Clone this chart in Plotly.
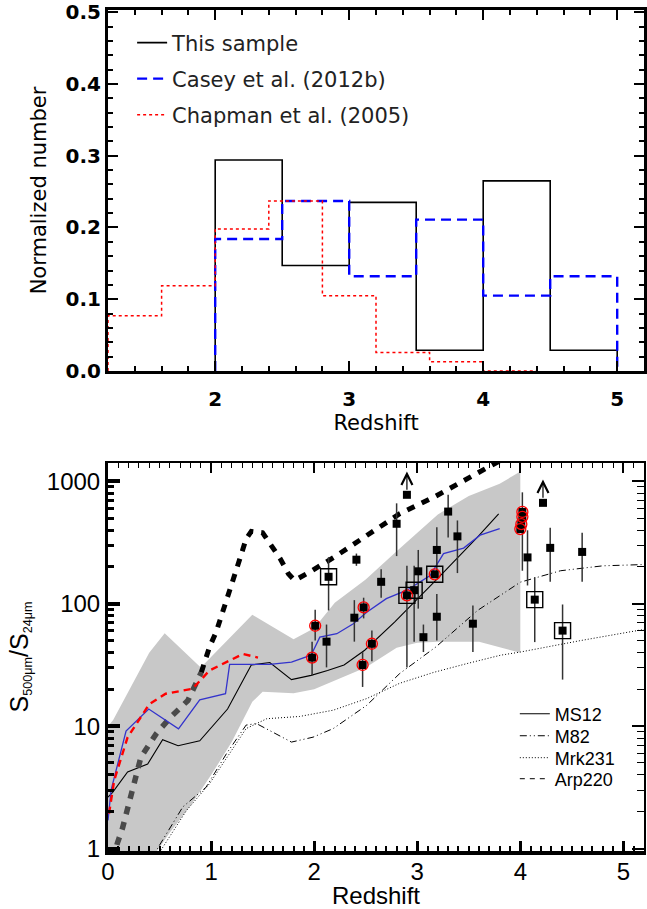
import plotly.graph_objects as go
import numpy as np

# ---------------- Top panel: redshift distributions ----------------
hist_edges = [2.0, 2.5, 3.0, 3.5, 4.0, 4.5, 5.0]
this_sample = [0.294, 0.147, 0.235, 0.029, 0.265, 0.029]
casey_2012b = [0.184, 0.237, 0.132, 0.211, 0.105, 0.132]
chapman_edges = [1.2, 1.6, 2.0, 2.4, 2.8, 3.2, 3.6, 4.0, 4.4]
chapman_2005 = [0.077, 0.119, 0.198, 0.237, 0.105, 0.026, 0.013, 0.0]

# ---------------- Bottom panel: S500/S24 vs redshift ----------------
ms12_z = [0.0, 0.045, 0.19, 0.385, 0.53, 0.68, 0.89, 1.16, 1.39, 1.57, 1.78, 1.97, 2.13, 2.29, 2.49, 2.78, 3.18, 3.58, 3.79]
ms12_r = [2.63, 2.88, 4.22, 4.90, 7.76, 6.92, 7.59, 13.8, 31.6, 33.1, 24.0, 26.0, 28.5, 31.6, 41.7, 70.8, 155, 347, 543]

blue_z = [0.0, 0.03, 0.175, 0.395, 0.684, 0.89, 1.14, 1.18, 1.57, 1.78, 1.97, 2.055, 2.22, 2.38, 2.51, 2.70, 2.90, 3.125, 3.255, 3.45, 3.61, 3.80]
blue_r = [1.7, 3.0, 9.1, 13.8, 9.5, 16.4, 18.4, 32.0, 32.0, 33.3, 38.0, 53.3, 56.9, 68.7, 85.1, 110, 129, 170, 257, 285, 363, 410]

red_z = [0.01, 0.06, 0.19, 0.40, 0.56, 0.82, 0.985, 1.15, 1.31, 1.455]
red_r = [1.93, 3.6, 8.1, 15.1, 18.4, 20.2, 28.5, 33.3, 38.9, 36.3]

arp_z = [0.05, 0.09, 0.14, 0.21, 0.32, 0.47, 0.61, 0.775, 0.905, 0.985, 1.05, 1.13, 1.21, 1.28, 1.34, 1.39, 1.50, 1.585,
         1.67, 1.75, 1.81, 1.96, 2.22, 2.51, 2.83, 3.16, 3.48, 3.73, 3.85]
arp_r = [0.8, 1.10, 1.46, 2.48, 5.60, 8.71, 11.9, 16.2, 27.5, 44.3, 58.9, 97.7, 158, 234, 339, 390, 380, 299,
         234, 176, 155, 182, 248, 361, 543, 741, 1047, 1349, 1550]
arp_split = 8  # index where the track turns from grey to black

m82_z = [0.40, 0.48, 0.726, 0.95, 1.15, 1.34, 1.44, 1.60, 1.78, 1.99, 2.185, 2.51, 2.83, 3.18, 3.585, 4.0, 4.39, 4.80, 5.2]
m82_r = [0.8, 1.0, 2.19, 3.16, 5.97, 10.2, 10.5, 8.91, 7.41, 8.13, 9.55, 14.8, 26.9, 44.3, 88.1, 150, 186, 204, 209]

mrk_z = [0.45, 0.53, 0.76, 0.985, 1.18, 1.34, 1.54, 1.86, 2.185, 2.51, 2.83, 3.16, 3.48, 3.81, 4.0, 4.59, 5.2]
mrk_r = [0.8, 1.02, 2.04, 3.39, 5.97, 9.55, 11.5, 12.0, 13.5, 16.8, 22.4, 27.5, 32.4, 38.0, 40.3, 50.1, 61.7]

band_up_z = [0.0, 0.05, 0.40, 0.55, 0.90, 1.40, 1.80, 2.0, 2.2, 2.5, 2.8, 3.2, 3.5, 3.8, 4.0]
band_up_r = [10.0, 11.2, 39.8, 57.5, 30.2, 81.3, 51.3, 63.1, 102, 158, 269, 537, 759, 955, 1202]
band_lo_z = [0.0, 0.45, 0.6, 0.8, 1.0, 1.2, 1.4, 1.5, 1.8, 2.0, 2.2, 2.5, 2.8, 3.0, 3.2, 3.6, 4.0]
band_lo_r = [0.79, 0.89, 1.35, 2.24, 3.98, 7.41, 15.8, 19.1, 18.6, 20.0, 23.4, 30.2, 43.7, 47.9, 49.0, 49.0, 39.8]

src_z = [2.01, 1.98, 2.12, 2.14, 2.39, 2.41, 2.48, 2.47, 2.56, 2.65, 2.80, 2.90, 2.90, 2.97, 3.01, 3.06,
         3.19, 3.17, 3.19, 3.30, 3.39, 3.54, 4.02, 4.02, 4.01, 4.00, 4.07, 4.14, 4.22, 4.29, 4.41, 4.60]
src_r = [66.1, 36.3, 49.0, 166, 76.9, 229, 93.3, 31.6, 47.1, 151, 450, 776, 117, 129, 184, 53.3,
         275, 174, 78.3, 566, 355, 68.7, 562, 513, 447, 407, 239, 108, 667, 286, 60.3, 265]
src_lo = [50.1, 26.0, 30.2, 88.1, 49.0, 204, 75.9, 20.9, 33.9, 112, 245, 776, 30.2, 49.0, 91.2, 40.3,
          176, 174, 50.1, 347, 178, 40.3, 186, 513, 447, 407, 141, 48.6, 667, 151, 24.0, 151]
src_hi = [89.1, 49.0, 67.6, 240, 107, 257, 112, 40.3, 60.3, 191, 661, 776, 204, 204, 275, 67.6,
          422, 174, 120, 776, 479, 96.8, 813, 513, 447, 407, 398, 165, 667, 417, 98.6, 380]
src_red = [1, 1, 0, 0, 0, 0, 1, 1, 1, 0, 0, 0, 1, 0, 0, 0,
           0, 1, 0, 0, 0, 0, 1, 1, 1, 1, 0, 0, 0, 0, 0, 0]
src_box = [0, 0, 0, 1, 0, 0, 0, 0, 0, 0, 0, 0, 1, 1, 0, 0,
           0, 1, 0, 0, 0, 0, 0, 0, 0, 0, 0, 1, 0, 0, 1, 0]
src_limit = [0, 0, 0, 0, 0, 0, 0, 0, 0, 0, 0, 1, 0, 0, 0, 0,
             0, 0, 0, 0, 0, 0, 0, 0, 0, 0, 0, 0, 1, 0, 0, 0]
limit_arrow_dex = 0.19

FONT = "Liberation Sans, Arial, sans-serif"
DJV = "DejaVu Sans, sans-serif"

top_leg_x = 0.045
top_leg_y = [0.9608, 0.9180, 0.8751]
bot_leg_x = 0.759
bot_leg_y = [0.1629, 0.1367, 0.1106, 0.0856]


def step(edges, vals):
    x = [edges[0], edges[0]] + list(edges[1:])
    y = [0] + list(vals) + [0]
    return x, y


fig = go.Figure()

x, y = step(hist_edges, this_sample)
fig.add_trace(go.Scatter(x=x, y=y, mode="lines", line=dict(shape="hv", color="black", width=1.6),
                         name="This sample", legend="legend", xaxis="x", yaxis="y"))
x, y = step(hist_edges, casey_2012b)
fig.add_trace(go.Scatter(x=x, y=y, mode="lines", line=dict(shape="hv", color="#0000ff", width=2.4, dash="10px,6px"),
                         name="Casey et al. (2012b)", legend="legend2", xaxis="x", yaxis="y"))
x, y = step(chapman_edges, chapman_2005)
fig.add_trace(go.Scatter(x=x, y=y, mode="lines", line=dict(shape="hv", color="#ff0000", width=1.5, dash="dot"),
                         name="Chapman et al. (2005)", legend="legend3", xaxis="x", yaxis="y"))

bx = list(band_up_z) + list(band_lo_z[::-1])
by = list(band_up_r) + list(band_lo_r[::-1])
fig.add_trace(go.Scatter(x=bx, y=by, mode="lines", fill="toself", fillcolor="#c8c8c8",
                         line=dict(width=0, color="#c8c8c8"), showlegend=False, hoverinfo="skip",
                         xaxis="x2", yaxis="y2"))

fig.add_trace(go.Scatter(x=ms12_z, y=ms12_r, mode="lines", line=dict(color="black", width=1.1),
                         name="MS12", legend="legend4", xaxis="x2", yaxis="y2"))
fig.add_trace(go.Scatter(x=m82_z, y=m82_r, mode="lines",
                         line=dict(color="black", width=1, dash="7px,3px,1px,3px,1px,3px"),
                         name="M82", legend="legend5", xaxis="x2", yaxis="y2"))
fig.add_trace(go.Scatter(x=mrk_z, y=mrk_r, mode="lines", line=dict(color="black", width=1, dash="1px,2px"),
                         name="Mrk231", legend="legend6", xaxis="x2", yaxis="y2"))
fig.add_trace(go.Scatter(x=arp_z[:arp_split + 1], y=arp_r[:arp_split + 1], mode="lines",
                         line=dict(color="#4a4a4a", width=5.5, dash="8px,8px"),
                         showlegend=False, xaxis="x2", yaxis="y2"))
fig.add_trace(go.Scatter(x=arp_z[arp_split:], y=arp_r[arp_split:], mode="lines",
                         line=dict(color="black", width=5.0, dash="8px,8px"),
                         showlegend=False, xaxis="x2", yaxis="y2"))
fig.add_trace(go.Scatter(x=[None], y=[None], mode="lines", line=dict(color="black", width=1, dash="5px,5px"),
                         name="Arp220", legend="legend7", xaxis="x2", yaxis="y2"))
fig.add_trace(go.Scatter(x=blue_z, y=blue_r, mode="lines", line=dict(color="#3333cc", width=1.3),
                         showlegend=False, xaxis="x2", yaxis="y2"))
fig.add_trace(go.Scatter(x=red_z, y=red_r, mode="lines", line=dict(color="#ff0000", width=2.4, dash="7px,5px"),
                         showlegend=False, xaxis="x2", yaxis="y2"))

err_plus = [h - r for h, r in zip(src_hi, src_r)]
err_minus = [r - l for r, l in zip(src_r, src_lo)]
fig.add_trace(go.Scatter(x=src_z, y=src_r, mode="markers",
                         marker=dict(symbol="square", size=8, color="black"),
                         error_y=dict(type="data", array=err_plus, arrayminus=err_minus, symmetric=False,
                                      color="#333333", thickness=1.5, width=0),
                         showlegend=False, xaxis="x2", yaxis="y2"))
rz = [z for z, f in zip(src_z, src_red) if f]
rr = [r for r, f in zip(src_r, src_red) if f]
fig.add_trace(go.Scatter(x=rz, y=rr, mode="markers",
                         marker=dict(symbol="circle-open", size=11, color="#ff0000", line=dict(width=1.3)),
                         showlegend=False, xaxis="x2", yaxis="y2"))
qz = [z for z, f in zip(src_z, src_box) if f]
qr = [r for r, f in zip(src_r, src_box) if f]
fig.add_trace(go.Scatter(x=qz, y=qr, mode="markers",
                         marker=dict(symbol="square-open", size=16, color="black", line=dict(width=1.4)),
                         showlegend=False, xaxis="x2", yaxis="y2"))

annotations = []
for z, r, f in zip(src_z, src_r, src_limit):
    if f:
        annotations.append(dict(x=z, y=np.log10(r) + limit_arrow_dex, ax=z, ay=np.log10(r) + 0.03,
                                xref="x2", yref="y2", axref="x2", ayref="y2", text="", showarrow=True,
                                arrowhead=5, arrowsize=1.8, arrowwidth=1.2, arrowcolor="black"))

fig.add_trace(go.Scatter(x=[None], y=[None], showlegend=False, hoverinfo="skip", xaxis="x3", yaxis="y2"))
fig.add_trace(go.Scatter(x=[None], y=[None], showlegend=False, hoverinfo="skip", xaxis="x2", yaxis="y4"))

top_dom = [0.5707, 1.0]
bot_dom = [0.0, 0.4614]


def leg(x, y, fam, size, color):
    return dict(x=x, y=y, xanchor="left", yanchor="middle", bgcolor="rgba(0,0,0,0)",
                font=dict(family=fam, size=size, color=color), itemwidth=30)


ytitle = ("<span style='font-size:25px'>S</span><sub>500μm</sub>"
          "<span style='font-size:25px'>/S</span><sub>24μm</sub>")

fig.update_layout(
    width=647, height=909,
    margin=dict(l=108, r=3, t=10, b=58),
    paper_bgcolor="white", plot_bgcolor="white",
    font=dict(family=FONT, color="black"),
    annotations=annotations,
    xaxis=dict(domain=[0, 1], anchor="y", range=[1.2, 5.2], tickvals=[2, 3, 4, 5], automargin=False,
               ticks="inside", ticklen=10, tickwidth=2, tickcolor="black",
               showline=True, linewidth=3, linecolor="black", mirror="allticks",
               minor=dict(dtick=0.2, tick0=0, ticks="inside", ticklen=5, tickwidth=1.5, tickcolor="black"),
               showgrid=False, zeroline=False, ticklabelstandoff=8,
               tickfont=dict(family=DJV, size=20, weight="bold"),
               title=dict(text="Redshift", font=dict(family=DJV, size=21), standoff=4)),
    yaxis=dict(domain=top_dom, anchor="x", range=[0, 0.503], dtick=0.1, tickformat=".1f", automargin=False,
               ticks="inside", ticklen=10, tickwidth=2, tickcolor="black",
               showline=True, linewidth=3, linecolor="black", mirror="allticks",
               minor=dict(dtick=0.02, tick0=0, ticks="inside", ticklen=5, tickwidth=1.5, tickcolor="black"),
               showgrid=False, zeroline=False,
               tickfont=dict(family=DJV, size=20, weight="bold"),
               title=dict(text="Normalized number", font=dict(family=DJV, size=21), standoff=14)),
    xaxis2=dict(domain=[0, 1], anchor="y2", range=[0, 5.2], dtick=1, tick0=0, automargin=False,
                ticks="inside", ticklen=10, tickwidth=3, tickcolor="black",
                showline=True, linewidth=4, linecolor="black", mirror=False,
                minor=dict(dtick=0.1, tick0=0, ticks="inside", ticklen=5, tickwidth=2, tickcolor="black"),
                showgrid=False, zeroline=False, ticklabelstandoff=-4,
                tickfont=dict(size=24),
                title=dict(text="Redshift", font=dict(size=24), standoff=3)),
    xaxis3=dict(overlaying="x2", anchor="y2", side="top", range=[0, 5.2], dtick=1, tick0=0, automargin=False,
                ticks="inside", ticklen=10, tickwidth=1.5, tickcolor="black",
                showline=True, linewidth=2, linecolor="black", showticklabels=False,
                minor=dict(dtick=0.1, tick0=0, ticks="inside", ticklen=5, tickwidth=1.2, tickcolor="black"),
                showgrid=False, zeroline=False),
    yaxis2=dict(domain=bot_dom, anchor="x2", type="log", range=[-0.02, 3.15], automargin=False,
                tickvals=[1, 10, 100, 1000], ticktext=["1", "10", "100", "1000"],
                ticks="inside", ticklen=12, tickwidth=4, tickcolor="black",
                showline=True, linewidth=3, linecolor="black", mirror=False,
                minor=dict(dtick="D1", ticks="inside", ticklen=6, tickwidth=3, tickcolor="black"),
                showgrid=False, zeroline=False,
                tickfont=dict(size=24),
                title=dict(text=ytitle, font=dict(size=18), standoff=14)),
    yaxis4=dict(overlaying="y2", anchor="x2", side="right", type="log", range=[-0.02, 3.15], automargin=False,
                tickvals=[1, 10, 100, 1000], showticklabels=False,
                ticks="inside", ticklen=12, tickwidth=1.5, tickcolor="black",
                showline=True, linewidth=2, linecolor="black",
                minor=dict(dtick="D1", ticks="inside", ticklen=7, tickwidth=1.3, tickcolor="black"),
                showgrid=False, zeroline=False),
    legend=leg(top_leg_x, top_leg_y[0], DJV, 21, "#222222"),
    legend2=leg(top_leg_x, top_leg_y[1], DJV, 21, "#222222"),
    legend3=leg(top_leg_x, top_leg_y[2], DJV, 21, "#222222"),
    legend4=leg(bot_leg_x, bot_leg_y[0], FONT, 18, "black"),
    legend5=leg(bot_leg_x, bot_leg_y[1], FONT, 18, "black"),
    legend6=leg(bot_leg_x, bot_leg_y[2], FONT, 18, "black"),
    legend7=leg(bot_leg_x, bot_leg_y[3], FONT, 18, "black"),
)

fig.write_html("out.html", config={"displayModeBar": False},
               post_script="document.body.style.margin='0';document.body.style.padding='0';")
